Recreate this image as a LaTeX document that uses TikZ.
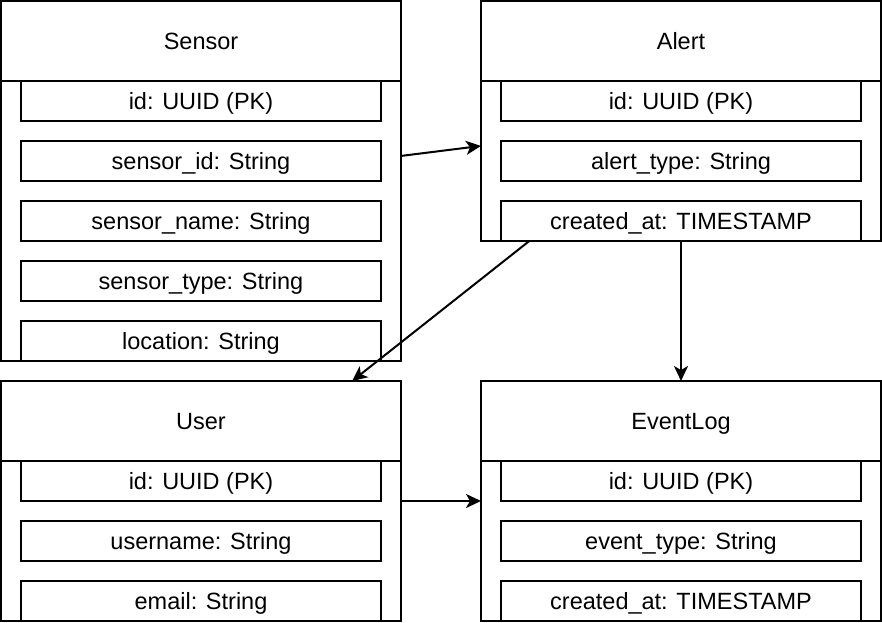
\documentclass[tikz,border=0pt]{standalone}
\usepackage{fontspec}
\setmainfont{Liberation Sans}
\usetikzlibrary{positioning,arrows.meta}
\tikzset{
  entity/.style={draw, line width=2pt, inner sep=0pt, outer sep=0pt, minimum width=400pt, anchor=north west},
  header/.style={draw, line width=2pt, inner sep=0pt, outer sep=0pt, minimum width=400pt, minimum height=80pt,
    text height=16.8pt, text depth=0pt, anchor=north},
  field/.style={draw, line width=2pt, inner sep=0pt, outer sep=0pt, minimum width=360pt, minimum height=40pt,
    text height=16.8pt, text depth=0pt},
  link/.style={line width=2pt, -{Stealth[length=15pt, width=14pt, inset=4pt]}}
}
\begin{document}
\begin{tikzpicture}[x=1pt, y=-1pt, font=\fontsize{23.5}{28}\selectfont]
\useasboundingbox (0,0) rectangle (882,622);
% Sensor
\node[entity, minimum height=360pt] (sensor) at (1,1) {};
\node[header] (sensorhead) at (sensor.north) {Sensor};
\node[field, below=0pt of sensorhead] (sensorid) {id: UUID (PK)};
\node[field, below=20pt of sensorid] (sensorsid) {sensor\_id: String};
\node[field, below=20pt of sensorsid] (sensorname) {sensor\_name: String};
\node[field, below=20pt of sensorname] (sensortype) {sensor\_type: String};
\node[field, below=20pt of sensortype] (sensorloc) {location: String};
% Alert
\node[entity, minimum height=240pt] (alert) at (481,1) {};
\node[header] (alerthead) at (alert.north) {Alert};
\node[field, below=0pt of alerthead] (alertid) {id: UUID (PK)};
\node[field, below=20pt of alertid] (alerttype) {alert\_type: String};
\node[field, below=20pt of alerttype] (alerttime) {created\_at: TIMESTAMP};
% User
\node[entity, minimum height=240pt] (user) at (1,381) {};
\node[header] (userhead) at (user.north) {User};
\node[field, below=0pt of userhead] (userid) {id: UUID (PK)};
\node[field, below=20pt of userid] (username) {username: String};
\node[field, below=20pt of username] (usermail) {email: String};
% EventLog
\node[entity, minimum height=240pt] (eventlog) at (481,381) {};
\node[header] (eventhead) at (eventlog.north) {EventLog};
\node[field, below=0pt of eventhead] (eventid) {id: UUID (PK)};
\node[field, below=20pt of eventid] (eventtype) {event\_type: String};
\node[field, below=20pt of eventtype] (eventtime) {created\_at: TIMESTAMP};
% relations
\draw[link] (sensor) -- (alert);
\draw[link] (alert) -- (user);
\draw[link] (alert) -- (eventlog);
\draw[link] (user) -- (eventlog);
\end{tikzpicture}
\end{document}
